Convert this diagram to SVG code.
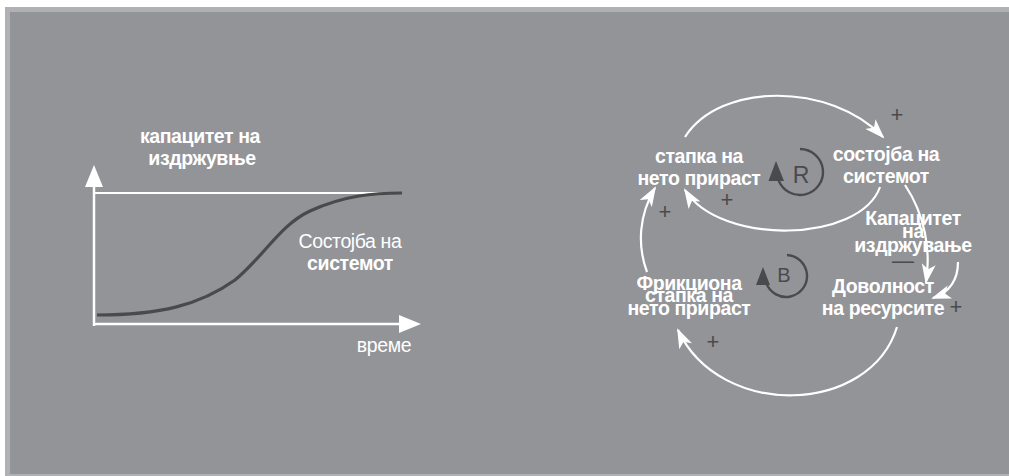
<svg xmlns="http://www.w3.org/2000/svg" width="1009" height="476" viewBox="0 0 1009 476">
  <style>
    .lbl { font-family: "Liberation Sans", Arial, sans-serif; fill: #ffffff; font-weight: bold; font-size: 19.5px; text-anchor: middle; letter-spacing: -0.4px; }
    .reg { font-weight: normal; }
    .sign { font-family: "Liberation Sans", Arial, sans-serif; fill: #4a4a4c; font-size: 22px; text-anchor: middle; }
    .loopname { font-family: "Liberation Sans", Arial, sans-serif; fill: #4a4a4c; text-anchor: middle; }
    .link { fill: none; stroke: #ffffff; stroke-width: 2.2; marker-end: url(#head); }
    .axis { fill: none; stroke: #ffffff; stroke-width: 2.5; }
    .loop { fill: none; stroke: #4a4a4c; stroke-width: 2.4; }
  </style>
  <defs>
    <marker id="head" viewBox="0 0 20 14" refX="18" refY="7" markerWidth="20" markerHeight="14" markerUnits="userSpaceOnUse" orient="auto">
      <path d="M0,0 L20,7 L0,14 L5,7 Z" fill="#ffffff"/>
    </marker>
  </defs>

  <!-- panel -->
  <rect x="0" y="0" width="1009" height="476" fill="#ffffff"/>
  <rect x="5" y="7" width="1004" height="469" fill="#b0b1b4"/>
  <rect x="10" y="12" width="999" height="462" fill="#939498"/>

  <!-- growth chart -->
  <g id="chart">
    <line class="axis" x1="94" y1="326" x2="94" y2="182"/>
    <polygon points="94,165 85,187 103,187" fill="#ffffff"/>
    <line class="axis" x1="93" y1="324" x2="404" y2="324"/>
    <polygon points="421,324 399,315 399,333" fill="#ffffff"/>
    <line x1="94" y1="193" x2="400" y2="193" stroke="#ffffff" stroke-width="2"/>
    <path d="M97,315 C160,315 200,305 235,280 C265,255 280,225 310,211 C345,195 375,193 402,193" fill="none" stroke="#4a4a4c" stroke-width="3.2"/>
    <text class="lbl" x="200" y="143">капацитет на</text>
    <text class="lbl" x="202" y="165">издржувње</text>
    <text class="lbl reg" x="350" y="248">Состојба на</text>
    <text class="lbl" x="350" y="270">системот</text>
    <text class="lbl reg" x="384" y="352">време</text>
  </g>

  <!-- causal loop nodes -->
  <g id="node-growth-rate">
    <text class="lbl" x="699" y="163">стапка на</text>
    <text class="lbl" x="699" y="185">нето прираст</text>
  </g>
  <g id="node-state">
    <text class="lbl" x="886" y="161">состојба на</text>
    <text class="lbl" x="886" y="183">системот</text>
  </g>
  <g id="node-capacity">
    <text class="lbl" x="913" y="225">Капацитет</text>
    <text class="lbl" x="913" y="238">на</text>
    <text class="lbl" x="913" y="252">издржување</text>
  </g>
  <g id="node-adequacy">
    <text class="lbl" x="883" y="293">Доволност</text>
    <text class="lbl" x="883" y="315">на ресурсите</text>
  </g>
  <g id="node-friction">
    <text class="lbl" x="689" y="290">Фрикциона</text>
    <text class="lbl" x="689" y="302">стапка на</text>
    <text class="lbl" x="689" y="315">нето прираст</text>
  </g>

  <!-- loop markers -->
  <g id="loop-R">
    <path class="loop" d="M800,149 A23,23 0 1 1 778.4,179.9"/>
    <polygon points="776,161 768.5,181 784,181" fill="#4a4a4c"/>
    <text class="loopname" x="801" y="183" font-size="23">R</text>
  </g>
  <g id="loop-B">
    <path class="loop" d="M787,255 A21,21 0 1 1 766.3,283.2"/>
    <polygon points="763,267 756,285 770,285" fill="#4a4a4c"/>
    <text class="loopname" x="784" y="282" font-size="20">B</text>
  </g>

  <!-- connectors -->
  <g id="connectors">
    <path class="link" d="M685,137 C720,82 830,82 883,137"/>
    <path class="link" d="M880,187 C860,243 720,246 685,190"/>
    <path class="link" d="M647,272 C637,245 639,215 655,188"/>
    <path class="link" d="M905,185 C925,215 931,250 926,282"/>
    <path class="link" d="M958,262 C958,280 950,292 933,298"/>
    <path class="link" d="M897,327 C870,415 720,420 678,330"/>
  </g>

  <!-- polarity signs -->
  <g id="signs">
    <text class="sign" x="897" y="122">+</text>
    <text class="sign" x="727" y="207">+</text>
    <text class="sign" x="665" y="219">+</text>
    <text class="sign" x="903" y="268">—</text>
    <text class="sign" x="956" y="314">+</text>
    <text class="sign" x="713" y="349">+</text>
  </g>
</svg>
